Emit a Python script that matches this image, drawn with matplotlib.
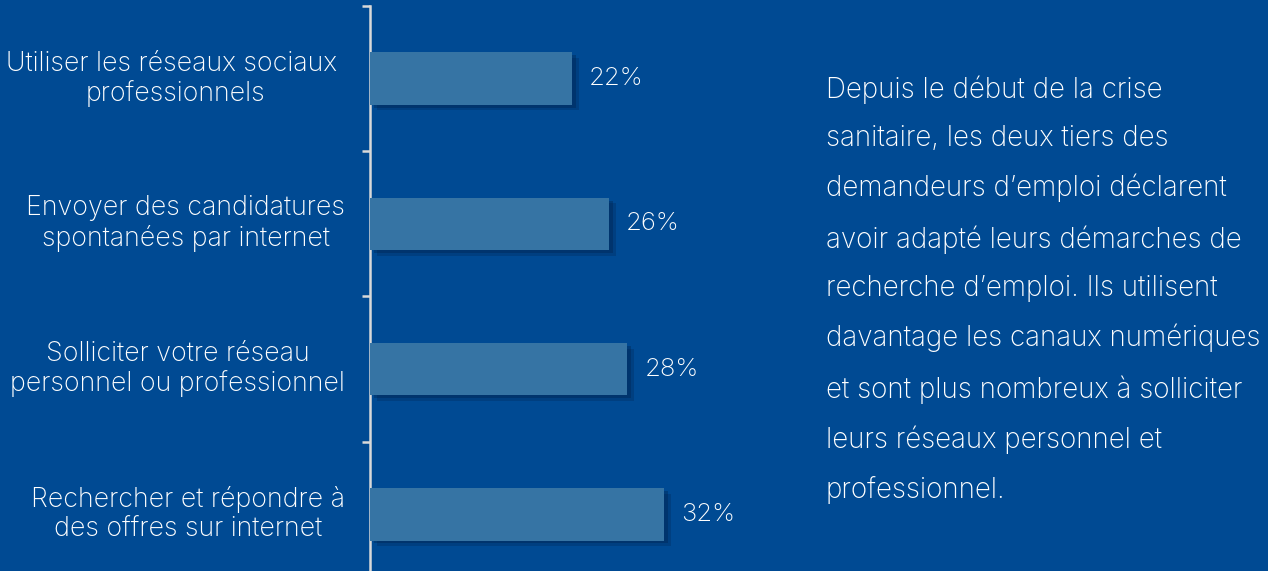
import matplotlib.pyplot as plt
import matplotlib.patheffects as pe

# donnees
categories = [
    "Utiliser les réseaux sociaux \nprofessionnels",
    "Envoyer des candidatures\nspontanées par internet",
    "Solliciter votre réseau\npersonnel ou professionnel",
    "Rechercher et répondre à\ndes offres sur internet",
]
valeurs = [22, 26, 28, 32]
etiquettes = ["22%", "26%", "28%", "32%"]

texte = ("Depuis le début de la crise\n"
         "sanitaire, les deux tiers des\n"
         "demandeurs d\u2019emploi déclarent\n"
         "avoir adapté leurs démarches de\n"
         "recherche d\u2019emploi. Ils utilisent\n"
         "davantage les canaux numériques\n"
         "et sont plus nombreux à solliciter\n"
         "leurs réseaux personnel et\n"
         "professionnel.")

fond = "#004a93"
barre = "#3674a4"
blanc = "#ffffff"

plt.rcParams['font.family'] = ['Inter', 'DejaVu Sans']

W, H = 1268, 571
fig = plt.figure(figsize=(W / 100, H / 100), dpi=100)
fig.patch.set_facecolor(fond)

# axe: x=370px, y de 6px a 587px (depasse en bas)
ax = fig.add_axes([370 / W, 1 - 587 / H, 459.5 / W, 581 / H])
ax.set_facecolor(fond)
ax.set_xlim(0, 50)
ax.set_ylim(len(categories) - 0.5, -0.5)

y = list(range(len(categories)))
ombre = [pe.SimplePatchShadow(offset=(5, -4), shadow_rgbFace="#00224a", alpha=0.25),
         pe.SimplePatchShadow(offset=(3, -2), shadow_rgbFace="#00224a", alpha=0.35),
         pe.Normal()]
bars = ax.barh(y, valeurs, height=0.36, color=barre, zorder=3)
for b in bars:
    b.set_path_effects(ombre)

for yi, v, lab in zip(y, valeurs, etiquettes):
    ax.annotate(lab, (v, yi), xytext=(17, 0), textcoords="offset pixels",
                va="center", ha="left", color=blanc, fontsize=18.5, fontweight="light")

# textes des categories
for yi, cat in zip(y, categories):
    ax.annotate(cat, (0, yi), xytext=(-25, 0), textcoords="offset pixels",
                va="center", ha="right", multialignment="center",
                color=blanc, fontsize=19.3, fontweight="light", linespacing=1.18)

for s in ["top", "right", "bottom"]:
    ax.spines[s].set_visible(False)
ax.spines["left"].set_color("#d9d9d9")
ax.spines["left"].set_linewidth(1.8)
ax.set_xticks([])
ax.set_yticks([-0.5, 0.5, 1.5, 2.5])
ax.set_yticklabels([])
ax.tick_params(axis="y", length=6, width=1.8, color="#d9d9d9")

fig.text(826 / W, 1 - 75 / H, texte, ha="left", va="top", color=blanc,
         fontsize=20, fontweight="light", linespacing=2.0)

fig.savefig("out.png", dpi=100, facecolor=fond)
